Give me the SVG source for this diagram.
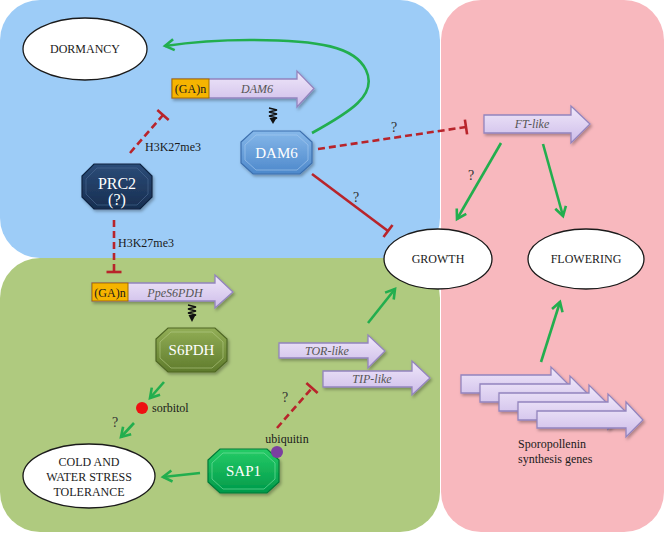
<svg xmlns="http://www.w3.org/2000/svg" width="666" height="533" viewBox="0 0 666 533" font-family="'Liberation Serif', 'DejaVu Serif', serif">
<defs>
<style>
text{font-family:'Liberation Serif','DejaVu Serif',serif;fill:#1a1a1a;font-size:12px}
.c{text-anchor:middle}
.i{font-style:italic;fill:#555}
.w{fill:#fff;font-size:15px;text-anchor:middle}
.q{font-size:14px;fill:#333;text-anchor:middle}
.ell{fill:#fff;stroke:#1a1a1a;stroke-width:1.3}
.gene{fill:url(#gLav);stroke:#9384BE;stroke-width:1.3;filter:url(#sh)}
.ga{fill:#F6B400;stroke:#A07000;stroke-width:1}
.gr{fill:none;stroke:#22AE4E;stroke-width:2.6;marker-end:url(#ah)}
.rd{fill:none;stroke:#B8242B;stroke-width:2.6;stroke-dasharray:7 4;marker-end:url(#tb)}
.rs{fill:none;stroke:#B8242B;stroke-width:2.6;marker-end:url(#tb)}
.sq{fill:none;stroke:#111;stroke-width:1.4}
</style>
<linearGradient id="gLav" x1="0" y1="0" x2="0" y2="1"><stop offset="0" stop-color="#F0E8FA"/><stop offset="1" stop-color="#CDBCE9"/></linearGradient>
<linearGradient id="gBlue" x1="0" y1="0" x2="0" y2="1"><stop offset="0" stop-color="#86B8EA"/><stop offset="1" stop-color="#4D88CB"/></linearGradient>
<linearGradient id="gNavy" x1="0" y1="0" x2="0" y2="1"><stop offset="0" stop-color="#2C4C78"/><stop offset="1" stop-color="#172E50"/></linearGradient>
<linearGradient id="gOlive" x1="0" y1="0" x2="0" y2="1"><stop offset="0" stop-color="#92AE56"/><stop offset="1" stop-color="#5F7B2C"/></linearGradient>
<linearGradient id="gGreen" x1="0" y1="0" x2="0" y2="1"><stop offset="0" stop-color="#25CC66"/><stop offset="1" stop-color="#00994A"/></linearGradient>
<filter id="sh" x="-20%" y="-20%" width="140%" height="150%"><feDropShadow dx="1.5" dy="2" stdDeviation="1.5" flood-color="#000" flood-opacity="0.3"/></filter>
<marker id="ah" markerUnits="userSpaceOnUse" markerWidth="14" markerHeight="14" viewBox="0 0 14 14" refX="11" refY="7" orient="auto"><path d="M2,1.5 L11,7 L2,12.5" fill="none" stroke="#22AE4E" stroke-width="2.6"/></marker>
<marker id="tb" markerUnits="userSpaceOnUse" markerWidth="6" markerHeight="16" viewBox="0 0 6 16" refX="3" refY="8" orient="auto"><path d="M3,0.5 L3,15.5" stroke="#B8242B" stroke-width="2.6"/></marker>
</defs>

<g id="background">
<rect x="441" y="0" width="223" height="532" rx="40" fill="#F8B8BE"/>
<rect x="0" y="0" width="440" height="258" rx="40" fill="#9DCCF7"/>
<rect x="0" y="258" width="440" height="274" rx="40" fill="#AFCA7F"/>
</g>

<g id="connectors">
<path class="gr" d="M312,133 C350,112 378,95 366,70 C355,47 320,40 250,40 C210,40 185,43 165,46"/>
<path class="rd" d="M318,149 L466,127"/>
<path class="rs" d="M312,174 L388,231"/>
<path class="rd" d="M130,153 L163,115"/>
<path class="rd" d="M114,220 L114,272"/>
<path class="gr" d="M501,143 L457,219"/>
<path class="gr" d="M543,144 L563,216"/>
<path class="gr" d="M541,362 L560,302"/>
<path class="gr" d="M368,323 L395,289"/>
<path class="gr" d="M164,382 L150,398"/>
<path class="gr" d="M134,423 L121,437"/>
<path class="gr" d="M200,473 L163,477"/>
<path class="rd" d="M277,428 L312,388"/>
<path class="sq" d="M269,108 L277,110 L269,112 L277,114 L269,116 L277,118 L273,119"/>
<path d="M269.5,118 L276.5,118 L273,124 Z" fill="#111"/>
<path class="sq" d="M188,305 L196,307 L188,309 L196,311 L188,313 L196,315 L192,316"/>
<path d="M188.5,315 L195.5,315 L192,322 Z" fill="#111"/>
<text class="q" x="394" y="132">?</text>
<text class="q" x="356" y="202">?</text>
<text class="q" x="471" y="180">?</text>
<text class="q" x="115" y="427">?</text>
<text class="q" x="285" y="402">?</text>
<text x="145" y="151">H3K27me3</text>
<text x="118" y="247">H3K27me3</text>
</g>

<g id="dormancy"><ellipse class="ell" cx="85" cy="49" rx="62" ry="31"/><text class="c" x="85" y="53">DORMANCY</text></g>
<g id="growth"><ellipse class="ell" cx="438" cy="259" rx="54" ry="30"/><text class="c" x="438" y="263">GROWTH</text></g>
<g id="flowering"><ellipse class="ell" cx="586" cy="259" rx="58" ry="30"/><text class="c" x="586" y="263">FLOWERING</text></g>
<g id="tolerance"><ellipse class="ell" cx="89" cy="476" rx="66" ry="32"/><text class="c" x="89" y="466">COLD AND</text><text class="c" x="89" y="481">WATER STRESS</text><text class="c" x="89" y="496">TOLERANCE</text></g>

<g id="dam6-gene">
<polygon class="gene" points="172,79 297,79 297,71 314,88.5 297,107 297,98 172,98"/>
<rect class="ga" x="172" y="79" width="37" height="19"/>
<text class="c" x="190.5" y="93">(GA)n</text>
<text class="c i" x="257" y="93">DAM6</text>
</g>
<g id="ppes6pdh-gene">
<polygon class="gene" points="92,283 215,283 215,275 233,292 215,308 215,301 92,301"/>
<rect class="ga" x="92" y="283" width="36" height="18"/>
<text class="c" x="110" y="297">(GA)n</text>
<text class="c i" x="175" y="297">PpeS6PDH</text>
</g>
<g id="ft-like">
<polygon class="gene" points="484,115 571,115 571,106 590,124 571,143 571,133 484,133"/>
<text class="c i" x="532" y="128">FT-like</text>
</g>
<g id="tor-like">
<polygon class="gene" points="279,343 368,343 368,335 385,351 368,368 368,358 279,358"/>
<text class="i" x="305" y="355">TOR-like</text>
</g>
<g id="tip-like">
<polygon class="gene" points="323,371 412,371 412,361 430,378 412,395 412,387 323,387"/>
<text class="c i" x="372" y="383">TIP-like</text>
</g>
<g id="sporopollenin">
<polygon class="gene" points="461,375 551,375 551,367 568,384 551,402 551,393 461,393"/>
<polygon class="gene" points="480,384 570,384 570,376 587,393 570,411 570,402 480,402"/>
<polygon class="gene" points="499,393 589,393 589,385 606,402 589,420 589,411 499,411"/>
<polygon class="gene" points="518,402 608,402 608,394 625,411 608,429 608,420 518,420"/>
<polygon class="gene" points="537,411 626,411 626,402 643,420 626,437 626,428 537,428"/>
<text x="518" y="448">Sporopollenin</text>
<text x="518" y="463">synthesis genes</text>
</g>

<g id="dam6">
<polygon points="253,131 300,131 312,142 312,163 300,174 253,174 241,163 241,142" fill="url(#gBlue)" stroke="#3C6FAE" stroke-width="1.2" filter="url(#sh)"/>
<polygon points="256,135 297,135 308,145 308,160 297,170 256,170 245,160 245,145" fill="none" stroke="#A9CCF0" stroke-width="1" opacity="0.6"/>
<text class="w" x="276.5" y="158">DAM6</text>
</g>
<g id="prc2">
<polygon points="94,164 140,164 152,176 152,197 140,209 94,209 82,197 82,176" fill="url(#gNavy)" stroke="#0F2440" stroke-width="1.2" filter="url(#sh)"/>
<polygon points="97,168 137,168 148,179 148,194 137,205 97,205 86,194 86,179" fill="none" stroke="#4C6A94" stroke-width="1" opacity="0.6"/>
<text class="w" x="117" y="189" style="font-size:16px">PRC2</text>
<text class="w" x="117" y="205" style="font-size:16px">(?)</text>
</g>
<g id="s6pdh">
<polygon points="168,328 215,328 227,339 227,361 215,372 168,372 156,361 156,339" fill="url(#gOlive)" stroke="#4E6624" stroke-width="1.2" filter="url(#sh)"/>
<polygon points="171,332 212,332 223,342 223,358 212,368 171,368 160,358 160,342" fill="none" stroke="#B5CC85" stroke-width="1" opacity="0.6"/>
<text class="w" x="191.5" y="355">S6PDH</text>
</g>
<g id="sap1">
<polygon points="220,449 267,449 279,460 279,482 267,493 220,493 208,482 208,460" fill="url(#gGreen)" stroke="#007A38" stroke-width="1.2" filter="url(#sh)"/>
<polygon points="223,453 264,453 275,463 275,479 264,489 223,489 212,479 212,463" fill="none" stroke="#7FE5A8" stroke-width="1" opacity="0.6"/>
<text class="w" x="243.5" y="476">SAP1</text>
</g>
<g id="sorbitol"><circle cx="142" cy="408" r="6" fill="#EE1111"/><text x="152" y="412">sorbitol</text></g>
<g id="ubiquitin"><circle cx="277" cy="452" r="6" fill="#7B3FA0"/><text class="c" x="287" y="443">ubiquitin</text></g>
</svg>
